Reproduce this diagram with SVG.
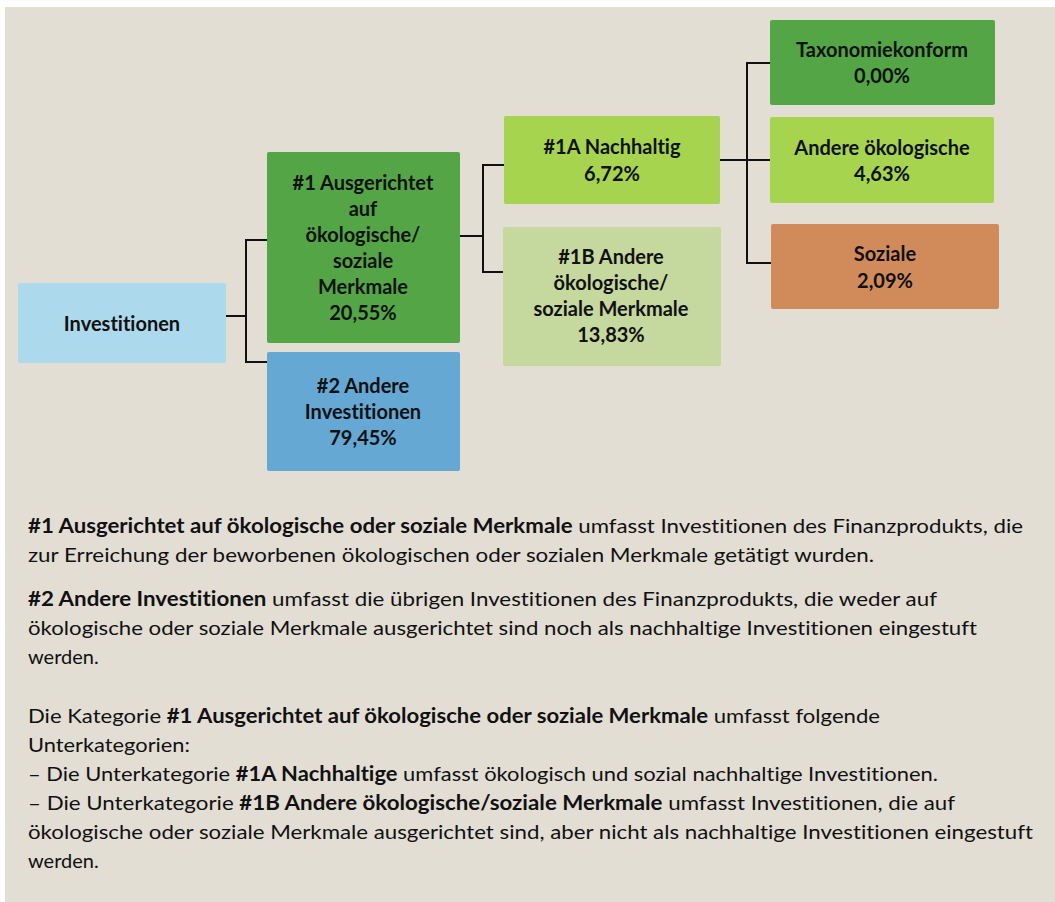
<svg xmlns="http://www.w3.org/2000/svg" width="1055" height="902" viewBox="0 0 1055 902">
<style>
.bg{fill:#E2DED4}
.nt{font-family:Lato,"Liberation Sans",sans-serif;font-weight:700;font-size:20px;fill:#111;text-anchor:middle;font-variant-ligatures:none}
.conn{fill:none;stroke:#111;stroke-width:2}
.bt{font-family:Lato,"Liberation Sans",sans-serif;font-size:20px;fill:#111;font-variant-ligatures:none}
.b{font-weight:700}
</style>
<rect class="bg" x="5" y="7" width="1050" height="895"/>
<g id="connectors">
<path class="conn" d="M226 316 H246 M246 239 V363 M246 240 H267 M246 362 H267"/>
<path class="conn" d="M460 236 H483 M483 164 V273 M483 165 H504 M483 272 H503"/>
<path class="conn" d="M720 160 H772 M747 62 V264 M747 63 H770 M747 263 H771"/>
</g>
<g id="investitionen">
<rect x="18" y="283" width="208" height="80" rx="2" fill="#ADD9EC"/>
<text class="nt" x="122" y="331">Investitionen</text>
</g>
<g id="n1">
<rect x="267" y="152" width="193" height="191" rx="2" fill="#54A546"/>
<text class="nt" x="363"><tspan x="363" y="190">#1 Ausgerichtet</tspan><tspan x="363" y="216">auf</tspan><tspan x="363" y="242">ökologische/</tspan><tspan x="363" y="268">soziale</tspan><tspan x="363" y="294">Merkmale</tspan><tspan x="363" y="320">20,55%</tspan></text>
</g>
<g id="n2">
<rect x="267" y="352" width="193" height="119" rx="2" fill="#64A8D3"/>
<text class="nt" x="363"><tspan x="363" y="393">#2 Andere</tspan><tspan x="363" y="419">Investitionen</tspan><tspan x="363" y="445">79,45%</tspan></text>
</g>
<g id="n1a">
<rect x="504" y="116" width="216" height="88" rx="2" fill="#A6D44F"/>
<text class="nt" x="612"><tspan x="612" y="154">#1A Nachhaltig</tspan><tspan x="612" y="181">6,72%</tspan></text>
</g>
<g id="n1b">
<rect x="503" y="227" width="218" height="139" rx="2" fill="#C5D89E"/>
<text class="nt" x="611"><tspan x="611" y="264">#1B Andere</tspan><tspan x="611" y="290">ökologische/</tspan><tspan x="611" y="316">soziale Merkmale</tspan><tspan x="611" y="342">13,83%</tspan></text>
</g>
<g id="taxonomie">
<rect x="770" y="20" width="225" height="85" rx="2" fill="#54A546"/>
<text class="nt" x="882"><tspan x="882" y="57">Taxonomiekonform</tspan><tspan x="882" y="83">0,00%</tspan></text>
</g>
<g id="andere-oeko">
<rect x="770" y="117" width="224" height="86" rx="2" fill="#A6D44F"/>
<text class="nt" x="882"><tspan x="882" y="155">Andere ökologische</tspan><tspan x="882" y="181">4,63%</tspan></text>
</g>
<g id="soziale">
<rect x="771" y="224" width="228" height="85" rx="2" fill="#D18B5B"/>
<text class="nt" x="885"><tspan x="885" y="261">Soziale</tspan><tspan x="885" y="288">2,09%</tspan></text>
</g>
<g id="legend">
<text class="bt" x="28" y="533" textLength="995" lengthAdjust="spacingAndGlyphs"><tspan class="b">#1 Ausgerichtet auf ökologische oder soziale Merkmale</tspan> umfasst Investitionen des Finanzprodukts, die</text>
<text class="bt" x="28" y="562" textLength="846" lengthAdjust="spacingAndGlyphs">zur Erreichung der beworbenen ökologischen oder sozialen Merkmale getätigt wurden.</text>
<text class="bt" x="28" y="606" textLength="909" lengthAdjust="spacingAndGlyphs"><tspan class="b">#2 Andere Investitionen</tspan> umfasst die übrigen Investitionen des Finanzprodukts, die weder auf</text>
<text class="bt" x="28" y="635" textLength="949" lengthAdjust="spacingAndGlyphs">ökologische oder soziale Merkmale ausgerichtet sind noch als nachhaltige Investitionen eingestuft</text>
<text class="bt" x="28" y="664">werden.</text>
<text class="bt" x="28" y="723" textLength="852" lengthAdjust="spacingAndGlyphs">Die Kategorie <tspan class="b">#1 Ausgerichtet auf ökologische oder soziale Merkmale</tspan> umfasst folgende</text>
<text class="bt" x="28" y="752" textLength="162" lengthAdjust="spacingAndGlyphs">Unterkategorien:</text>
<text class="bt" x="28" y="781" textLength="910" lengthAdjust="spacingAndGlyphs">– Die Unterkategorie <tspan class="b">#1A Nachhaltige</tspan> umfasst ökologisch und sozial nachhaltige Investitionen.</text>
<text class="bt" x="28" y="810" textLength="927" lengthAdjust="spacingAndGlyphs">– Die Unterkategorie <tspan class="b">#1B Andere ökologische/soziale Merkmale</tspan> umfasst Investitionen, die auf</text>
<text class="bt" x="28" y="839" textLength="1005" lengthAdjust="spacingAndGlyphs">ökologische oder soziale Merkmale ausgerichtet sind, aber nicht als nachhaltige Investitionen eingestuft</text>
<text class="bt" x="28" y="868">werden.</text>
</g>
</svg>
